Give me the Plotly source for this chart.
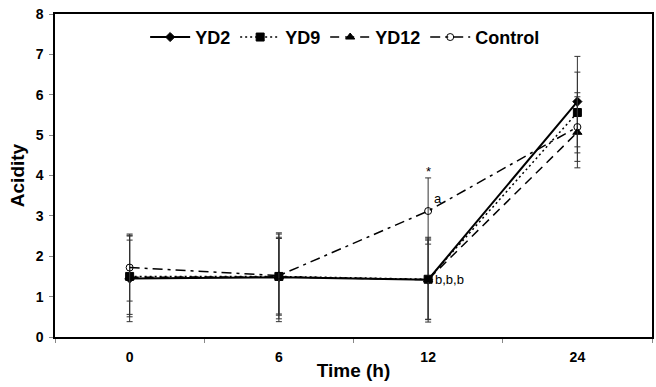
import plotly.graph_objects as go

times = ["0", "6", "12", "24"]
yd2 = [1.45, 1.48, 1.42, 5.83]
yd9 = [1.50, 1.50, 1.43, 5.56]
yd12 = [1.48, 1.49, 1.42, 5.07]
control = [1.72, 1.52, 3.12, 5.20]
yd2_err = [1.07, 1.10, 1.05, 1.12]
yd9_err = [1.00, 1.05, 1.00, 1.00]
yd12_err = [0.92, 0.95, 0.98, 0.88]
control_err = [0.83, 0.95, 0.82, 0.85]

FONT = "Liberation Sans, Arial, sans-serif"

def trace(name, y, err, dash, symbol, width, msize):
    return go.Scatter(
        x=times, y=y, name=name, mode="lines+markers",
        line=dict(color="black", dash=dash, width=width),
        marker=dict(symbol=symbol, size=msize, color="black",
                    line=dict(color="black", width=1)),
        error_y=dict(type="data", array=err, visible=True,
                     color="#333333", thickness=1, width=3),
    )

fig = go.Figure()
fig.add_trace(trace("YD2", yd2, yd2_err, "solid", "diamond", 2, 7))
fig.add_trace(trace("YD9", yd9, yd9_err, "2px,3px", "square", 1.5, 8))
fig.add_trace(trace("YD12", yd12, yd12_err, "9px,6px", "triangle-up", 1.5, 8))
fig.add_trace(trace("Control", control, control_err, "10px,5px,3px,5px", "circle-open", 1.5, 7))

i12 = times.index("12")
fig.add_annotation(x=i12, y=control[i12], text="a", showarrow=False,
                   xanchor="left", xshift=4, yshift=13,
                   font=dict(size=13, color="black", family=FONT))
fig.add_annotation(x=i12, y=yd2[i12], text="b,b,b", showarrow=False,
                   xanchor="left", xshift=5, yshift=0,
                   font=dict(size=13, color="black", family=FONT))
fig.add_annotation(x=i12, y=control[i12] + control_err[i12], text="*", showarrow=False,
                   yshift=6, font=dict(size=13, color="black", family=FONT))

fig.update_layout(
    width=656, height=387,
    margin=dict(l=55, r=4, t=14, b=50),
    paper_bgcolor="white", plot_bgcolor="white",
    font=dict(family=FONT, color="black"),
    showlegend=True,
    legend=dict(orientation="h", x=0.486, y=0.985, xanchor="center", yanchor="top",
                font=dict(size=18, weight="bold", family=FONT),
                bgcolor="rgba(0,0,0,0)", itemwidth=40, tracegroupgap=0),
    xaxis=dict(type="category", range=[-0.5, 3.5], showline=True, linecolor="black",
               linewidth=1.5, mirror=True, ticks="outside", tickson="boundaries",
               ticklen=4, tickcolor="#888", showgrid=False, automargin=False,
               ticklabelstandoff=6,
               tickfont=dict(size=14, weight="bold", family=FONT),
               title=dict(text="Time (h)", font=dict(size=19, weight="bold", family=FONT),
                          standoff=0)),
    yaxis=dict(range=[0, 8], dtick=1, showline=True, linecolor="black", linewidth=1.5,
               mirror=True, ticks="outside", ticklen=4, tickcolor="#888",
               showgrid=False, zeroline=False, automargin=False,
               ticklabelstandoff=3,
               tickfont=dict(size=14, weight="bold", family=FONT),
               title=dict(text="Acidity", font=dict(size=19, weight="bold", family=FONT),
                          standoff=6)),
)

fig.write_html("out.html", config={"displayModeBar": False},
               post_script="document.body.style.margin='0';")
